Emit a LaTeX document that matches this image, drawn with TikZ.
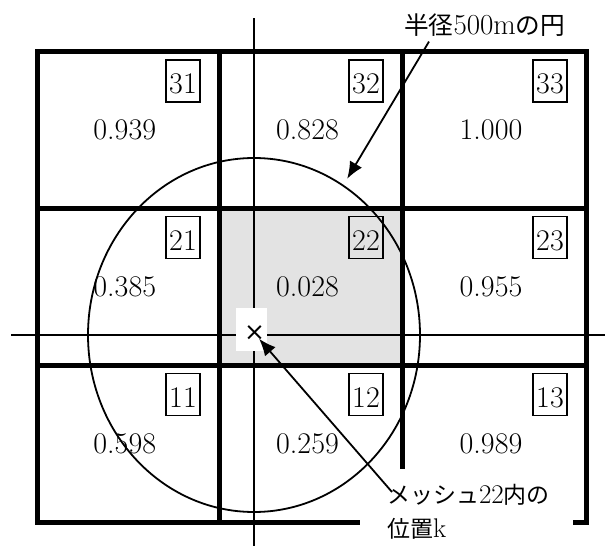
\documentclass[tikz,border=0pt]{standalone}
\usepackage{fontspec}
\newfontfamily\cjk[Scale=0.85]{Noto Sans CJK JP}
\newfontfamily\djv{DejaVu Sans}
\usetikzlibrary{shapes.geometric,arrows.meta}
\begin{document}
\begin{tikzpicture}[x=1pt,y=-1pt,
  gridline/.style={line width=5pt, line cap=rect},
  axisline/.style={line width=1.5pt},
  val/.style={font=\fontsize{30}{35}\selectfont, inner sep=0pt},
  idbox/.style={draw, line width=1.6pt, minimum width=34pt, minimum height=42pt, inner sep=0pt,
    font=\fontsize{30}{35}\selectfont, text height=25.3pt, text depth=0pt},
  arr/.style={line width=1.8pt, -{Latex[length=17pt,width=14pt]}},
  jlabel/.style={inner sep=0pt, align=left}
]
\useasboundingbox (0,0) rectangle (605,546);
% shaded mesh 22
\fill[gray!22] (219.5,208) rectangle (402.5,365);
% grid
\draw[gridline] (37,51.5) -- (586.5,51.5);
\draw[gridline] (37,208) -- (586.5,208);
\draw[gridline] (37,365) -- (586.5,365);
\draw[gridline] (37,522) -- (586.5,522);
\draw[gridline] (37,51.5) -- (37,522);
\draw[gridline] (219.5,51.5) -- (219.5,522);
\draw[gridline] (402.5,51.5) -- (402.5,522);
\draw[gridline] (586.5,51.5) -- (586.5,522);
% white area of the bottom label
\fill[white] (360,469) rectangle (573,547);
% values
\node[val] (v31) at (124.75,129.75) {0.939};
\node[val] (v32) at (307.5,129.75) {0.828};
\node[val] (v33) at (491,129.75) {1.000};
\node[val] (v21) at (124.75,286.5) {0.385};
\node[val] (v22) at (307.5,286.5) {0.028};
\node[val] (v23) at (491,286.5) {0.955};
\node[val] (v11) at (124.75,443.5) {0.598};
\node[val] (v12) at (307.5,443.5) {0.259};
\node[val] (v13) at (491,443.5) {0.989};
% mesh ids
\node[idbox] (b31) at (183,81) {31};
\node[idbox] (b32) at (366,81) {32};
\node[idbox] (b33) at (550,81) {33};
\node[idbox] (b21) at (183,237.5) {21};
\node[idbox] (b22) at (366,237.5) {22};
\node[idbox] (b23) at (550,237.5) {23};
\node[idbox] (b11) at (183,394.5) {11};
\node[idbox] (b12) at (366,394.5) {12};
\node[idbox] (b13) at (550,394.5) {13};
% axes
\draw[axisline] (254,18) -- (254,546);
\draw[axisline] (11,335) -- (605,335);
% circle of radius 500 m
\node[ellipse, draw, line width=1.8pt, minimum width=332pt, minimum height=354pt,
  inner sep=0pt, outer sep=0pt] (circ) at (254,335) {};
% position k
\node[fill=white, minimum width=31pt, minimum height=43pt, inner sep=0pt] (xbox) at (251.5,329.5) {};
\node[font=\djv\fontsize{25}{30}\selectfont, inner sep=0pt] (xmark) at (254.5,333.5) {×};
% labels
\node[jlabel, anchor=west, font=\fontsize{29}{34}\selectfont] (rlbl) at (404,25)
  {{\cjk 半径}500m{\cjk の円}};
\node[jlabel, anchor=north west, font=\fontsize{27}{34}\selectfont] (lblk) at (387,484)
  {{\cjk メッシュ}22{\cjk 内の}\\{\cjk 位置}k};
% arrows
\draw[arr, shorten >=8pt] ([xshift=25pt,yshift=-5pt]rlbl.south west) -- (circ);
\draw[arr, shorten >=7pt] ([xshift=5pt,yshift=-8pt]lblk.north west) -- (xmark.center);
\end{tikzpicture}
\end{document}
